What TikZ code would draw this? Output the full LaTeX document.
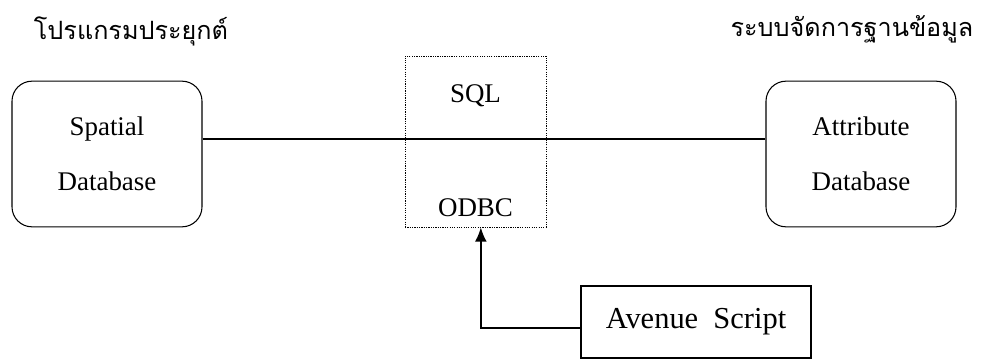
\documentclass[tikz,border=0pt]{standalone}
\usepackage{fontspec}
\setmainfont{Liberation Serif}
\newfontfamily\thaifont[Script=Thai]{Loma}
\usetikzlibrary{positioning, arrows.meta}
\tikzset{>={Latex[length=12pt, width=10pt]}}
\tikzset{
  dbbox/.style={draw, rounded corners=0.6cm, line width=0.9pt, align=center,
    minimum width=5.7cm, minimum height=4.37cm,
    font=\fontsize{23}{47}\selectfont},
  gatebox/.style={draw, line width=0.8pt, dash pattern=on 1pt off 1pt,
    minimum width=4.23cm, minimum height=5.13cm},
  gatelabel/.style={font=\fontsize{23}{27}\selectfont},
  scriptbox/.style={draw, line width=0.9pt, minimum width=6.9cm,
    minimum height=2.16cm, font=\fontsize{26}{30}\selectfont},
  heading/.style={font=\thaifont\fontsize{21.5}{26}\selectfont}
}

\begin{document}
\begin{tikzpicture}[x=0.03cm, y=0.03cm]

  \useasboundingbox (0,0) rectangle (987,-360);

  % Nodes
  \node[heading]           (apptitle)  at (131,-31)  {โปรแกรมประยุกต์};
  \node[heading]           (dbmstitle) at (852,-29)  {ระบบจัดการฐานข้อมูล};
  \node[dbbox]             (spatial)   at (107,-154) {Spatial\\Database};
  \node[dbbox]             (attribute) at (861,-154) {Attribute\\Database};
  \node[gatebox]           (gate)      at (475.5,-141.5) {};
  \node[gatelabel, below=0.75cm of gate.north] (sql)  {SQL};
  \node[gatelabel, above=0.2cm of gate.south]  (odbc) {ODBC};
  \node[scriptbox]         (avenue)    at (696,-322) {Avenue~~Script};

  % Edges
  \draw[line width=0.9pt] (spatial.east) ++(0,15) coordinate (link)
    -- (link -| attribute.west);
  \draw[->, line width=1.3pt] ([yshift=-0.18cm]avenue.west)
    -| ([xshift=0.16cm]gate.south);

\end{tikzpicture}
\end{document}
